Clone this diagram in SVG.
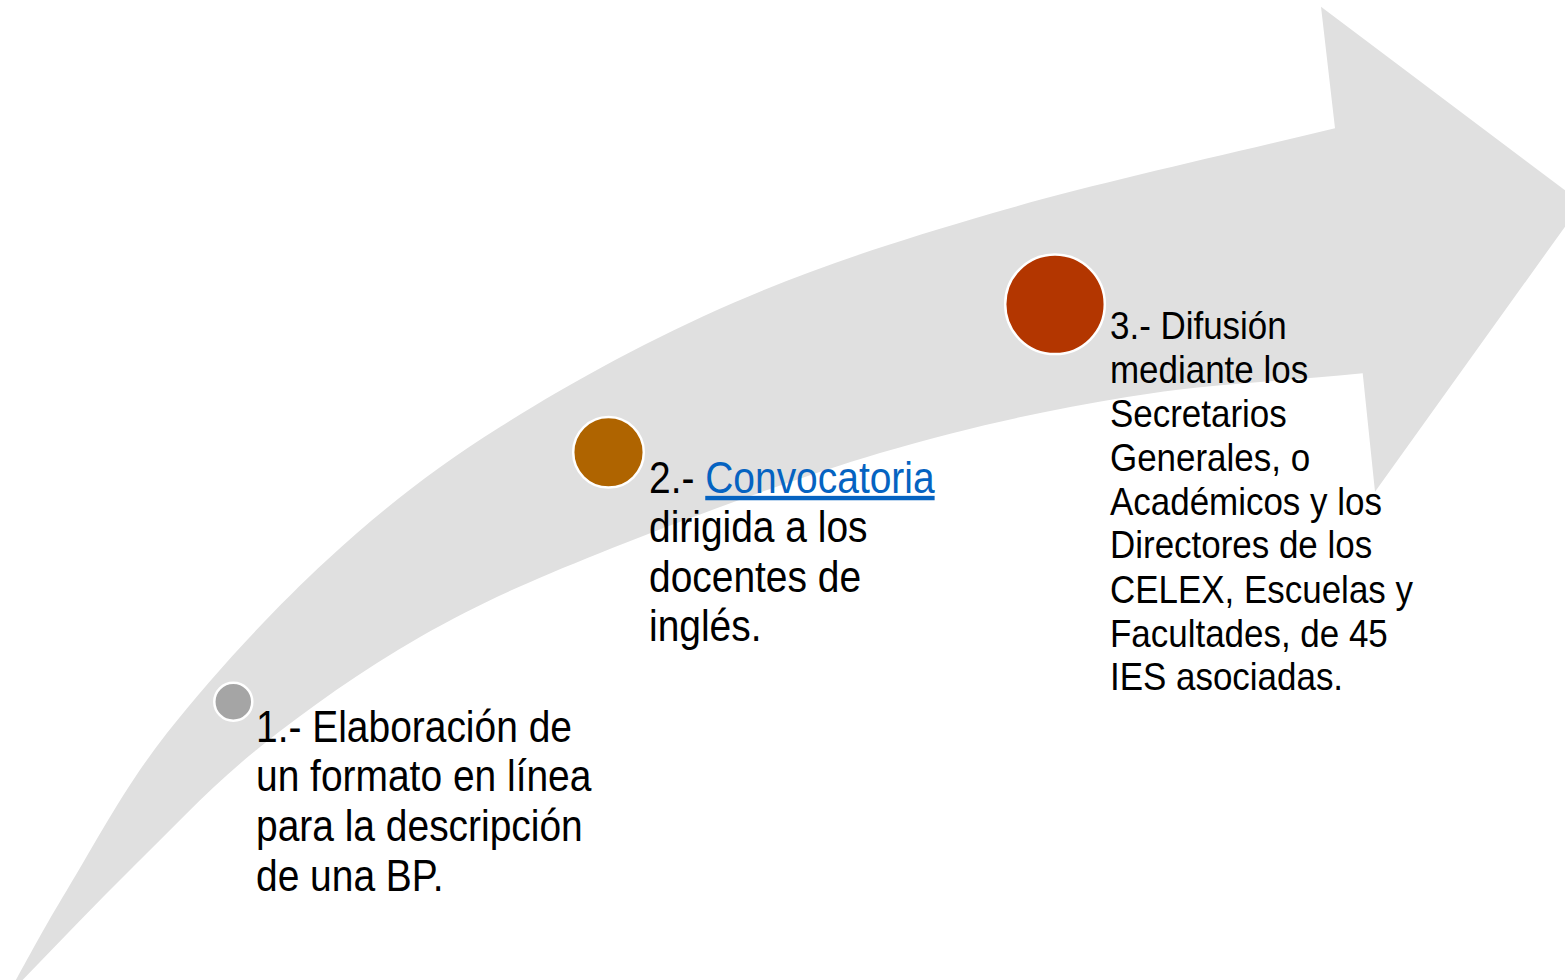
<svg xmlns="http://www.w3.org/2000/svg" width="1565" height="980" viewBox="0 0 1565 980">
<style>
.lbl{font-family:"Liberation Sans",Arial,sans-serif;fill:#000;}
.big{font-size:44px;}
.med{font-size:39.5px;}
.link{fill:#0563C1;text-decoration:underline;}
.dot{stroke:#fff;stroke-width:2.5;}
</style>
<rect width="1565" height="980" fill="#fff"/>
<g id="arrow">
<path fill="#E0E0E0" d="M7.5,995 C27.3,960 40.4,933.7 67,890 C93.6,846.3 123.7,788 167,733 C210.3,678 271.5,611 327,560 C382.5,509 432.3,469.8 500,427 C567.7,384.2 650.8,338.7 733,303 C815.2,267.3 893,242.2 993,213 C1093,183.8 1219.7,156.3 1335,128.3 L1321,6.7 L1582,203 L1375,491.7 L1362.7,373.3 C1284.1,381.2 1207.5,383.7 1127,397 C1046.5,410.3 967.8,427 880,453 C792.2,479 676.7,522.3 600,553 C523.3,583.7 476.7,604.7 420,637 C363.3,669.3 307.8,708.7 260,747 C212.2,785.3 175,825.7 133,867 C91,908.3 49.7,952.3 8,995 Z"/>
</g>
<g id="connectors"></g>
<g id="step1">
<circle class="dot" cx="233.3" cy="701.7" r="19" fill="#A5A5A5"/>
<g transform="translate(256,0) scale(0.885,1)">
<text class="lbl big" x="0" y="742">1.- Elaboración de</text>
<text class="lbl big" x="0" y="791">un formato en línea</text>
<text class="lbl big" x="0" y="841">para la descripción</text>
<text class="lbl big" x="0" y="891">de una BP.</text>
</g>
</g>
<g id="step2">
<circle class="dot" cx="608.5" cy="452.3" r="35.3" fill="#AF6400"/>
<g transform="translate(649,0) scale(0.885,1)">
<text class="lbl big" x="0" y="492.7">2.- <tspan class="link">Convocatoria</tspan></text>
<text class="lbl big" x="0" y="541.7">dirigida a los</text>
<text class="lbl big" x="0" y="591.7">docentes de</text>
<text class="lbl big" x="0" y="640.7">inglés.</text>
</g>
</g>
<g id="step3">
<circle class="dot" cx="1055" cy="304.3" r="49.8" fill="#B33600"/>
<g transform="translate(1110,0) scale(0.885,1)">
<text class="lbl med" x="0" y="339.3">3.- Difusión</text>
<text class="lbl med" x="0" y="383.3">mediante los</text>
<text class="lbl med" x="0" y="427">Secretarios</text>
<text class="lbl med" x="0" y="471">Generales, o</text>
<text class="lbl med" x="0" y="515">Académicos y los</text>
<text class="lbl med" x="0" y="558.5">Directores de los</text>
<text class="lbl med" x="0" y="602.7">CELEX, Escuelas y</text>
<text class="lbl med" x="0" y="646.7">Facultades, de 45</text>
<text class="lbl med" x="0" y="690.5">IES asociadas.</text>
</g>
</g>
</svg>
